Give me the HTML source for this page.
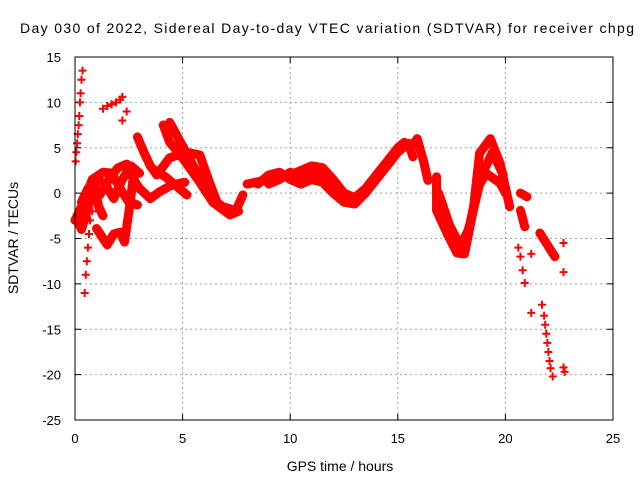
<!DOCTYPE html>
<html><head><meta charset="utf-8"><style>
html,body{margin:0;padding:0;background:#fff}
svg{display:block;font-family:"Liberation Sans",Arial,sans-serif}
</style></head><body>
<svg id="chart" width="640" height="480" viewBox="0 0 640 480">
<rect width="640" height="480" fill="#fff"/>
<text x="20" y="33" font-size="14" textLength="614">Day 030 of 2022, Sidereal Day-to-day VTEC variation (SDTVAR) for receiver chpg</text>
<g id="grid"></g>
<g id="plot"></g>
<rect x="75" y="57" width="538" height="363" fill="none" stroke="#000" stroke-width="1"/>
<g id="ticks"></g>
<text x="340" y="471" font-size="14" text-anchor="middle">GPS time / hours</text>
<text x="0" y="0" font-size="14" text-anchor="middle" transform="translate(18,238) rotate(-90)">SDTVAR / TECUs</text>
</svg>
<script>
const xTicks = [0, 5, 10, 15, 20, 25];
const yTicks = [15, 10, 5, 0, -5, -10, -15, -20, -25];
// dense tracks (bands)
const bandA = [[0,-3],[0.4,-1],[0.8,1.5],[1.3,2.3],[1.7,2.2],[2.1,0.5],[2.5,-1],[2.9,-1.3]];
const bandB = [[1.15,-0.2],[1.6,1.6],[2.0,2.8],[2.4,3.2],[2.7,1.6],[3.0,0.5],[3.5,-0.6],[3.9,0.1],[4.5,0.9],[5.1,1.2]];
const bandC = [[2.9,6.2],[3.2,4.5],[3.5,3],[3.8,2],[4.4,3.9],[5.2,4.5],[5.8,4.2],[6.2,1.5],[6.6,-1],[7.1,-2],[7.5,-1.8],[7.8,-0.2]];
const bandD = [[4.1,7.5],[4.4,5.6],[4.9,4.2],[5.8,1.2],[6.4,-1],[7.2,-2.4],[7.6,-2]];
const bandE = [[4.4,7.8],[4.7,6.5],[5.0,5.2],[5.5,3],[6.0,0.8],[6.6,-1.3],[7.3,-1.8]];
const bandF = [[1.0,-3.9],[1.5,-5.7],[1.8,-4.5],[2.1,-4.3],[2.3,-5.4],[2.55,-1.3],[2.7,1.6],[2.9,2.3]];
const bandG = [[3.6,2.7],[4.2,1.8],[4.7,0.8],[5.2,-0.2]];
const bandH = [[0.3,-1],[0.6,0.5],[1.0,1.5],[1.4,1.0],[1.8,-0.6],[2.2,1.5],[2.6,3],[3.0,2.2]];
const bandI = [[0.1,-3],[0.3,-4],[0.5,-2.5],[0.7,-0.5],[0.9,0.8],[1.1,-1.5],[1.3,-2.5]];
const bandM1 = [[8.0,1],[9,1.5],[10,2],[10.5,2.5],[11,3],[11.5,2.8],[12,1.5],[12.5,0],[13,-0.5],[13.5,0.5],[14,2],[14.5,3.5],[15,5],[15.3,5.6],[15.6,5],[15.9,6],[16.2,3.5],[16.4,1.4]];
const bandM2 = [[8.5,1],[9,2],[9.5,2.3],[10,1.5],[10.5,1],[11,1.5],[11.5,1.2],[12,0],[12.5,-1],[13,-1.2],[13.5,0],[14,1.5],[14.5,3],[15,4.5],[15.5,5.5],[15.7,4]];
const bandM3 = [[9,1],[9.5,1.5],[10,2.3],[10.5,1.8],[11,2.2],[11.5,2],[12,0.8],[12.5,-0.5],[13,-1],[13.5,0.2],[14,1.8],[14.5,3.2],[15,4.8]];
const bandV1 = [[16.8,1.8],[16.8,-1.9],[17.3,-4.5],[17.75,-6.6],[18.1,-6.7],[18.5,-2],[18.8,4.4],[19.3,6],[19.75,3.3],[20.2,-1.5]];
const bandV2 = [[16.9,0],[17.4,-3.5],[17.9,-5.8],[18.3,-4],[18.7,0.5],[19.1,2.2],[19.75,1.1],[20.0,0]];
const bandV3 = [[17.1,-2],[17.6,-5],[18.0,-6.2],[18.4,-3],[18.9,2],[19.4,4.5],[19.9,2]];
const bandR1 = [[20.7,0],[21.0,-0.4]];
const bandR2 = [[20.7,-1.9],[20.9,-3.7]];
const bandR3 = [[21.6,-4.4],[22.3,-7]];
// sparse marker tracks
const spikeUp = [[0.0,-3],[0.03,3.5],[0.06,4.5],[0.1,5.5],[0.13,6.5],[0.17,7.5],[0.2,8.5],[0.23,10],[0.26,11],[0.3,12.5],[0.35,13.5]];
const spikeDown = [[0.45,-11],[0.5,-9],[0.55,-7.5],[0.6,-6],[0.65,-4.5],[0.7,-3],[0.8,-2],[0.9,-1]];
const blobTop = [[1.3,9.3],[1.5,9.6],[1.7,9.8],[1.9,10],[2.1,10.3],[2.2,10.6],[2.4,9],[2.2,8]];
const rightA = [[20.6,-6],[20.7,-7],[20.8,-8.5],[20.9,-9.9],[21.2,-6.7],[21.2,-13.2],[22.7,-5.5],[22.7,-8.7]];
const rightB = [[21.7,-12.3],[21.8,-13.5],[21.85,-14.5],[21.9,-15.5],[21.95,-16.5],[22.0,-17.5],[22.05,-18.5],[22.1,-19.3],[22.2,-20.2],[22.7,-19.2],[22.75,-19.7]];
const bands = [bandA,bandB,bandC,bandD,bandE,bandF,bandG,bandH,bandI,bandM1,bandM2,bandM3,bandV1,bandV2,bandV3,bandR1,bandR2,bandR3];
const sparse = [spikeUp,spikeDown,blobTop,rightA,rightB];

const X0=75, X1=613, Y0=57, Y1=420;
const xs = t => X0 + (t-0)/(25-0)*(X1-X0);
const ys = v => Y0 + (15-v)/(15-(-25))*(Y1-Y0);
const NS='http://www.w3.org/2000/svg';
const grid=document.getElementById('grid'), plot=document.getElementById('plot'), ticks=document.getElementById('ticks');
function mk(tag,attrs,parent){const e=document.createElementNS(NS,tag);for(const k in attrs)e.setAttribute(k,attrs[k]);parent.appendChild(e);return e;}

xTicks.forEach(t=>{
  const x=xs(t);
  if(t>0&&t<25){const g=mk('line',{x1:x,x2:x,y1:Y0,y2:Y1,stroke:'#a0a0a0','stroke-dasharray':'2,3'},grid);
  
  }
  const tk=mk('path',{d:`M${x} ${Y1}v-6M${x} ${Y0}v6`,stroke:'#000'},grid);
  
  
  const l=mk('text',{x:x,y:443,'font-size':13,'text-anchor':'middle'},ticks);
  l.textContent=t;
  
  
});
yTicks.forEach(v=>{
  const y=ys(v);
  if(v<15&&v>-25){const g=mk('line',{x1:X0,x2:X1,y1:y,y2:y,stroke:'#a0a0a0','stroke-dasharray':'2,3'},grid);
  
  }
  const tk=mk('path',{d:`M${X0} ${y}h6M${X1} ${y}h-6`,stroke:'#000'},grid);
  
  
  const l=mk('text',{x:61,y:y+5,'font-size':13,'text-anchor':'end'},ticks);
  l.textContent=v;
  
  
});
function marker(p){
  const m=mk('path',{d:`M${xs(p[0])-4} ${ys(p[1])}h8M${xs(p[0])} ${ys(p[1])-4}v8`,stroke:'#f00','stroke-width':2},plot);
  
  
}
bands.forEach(b=>{
  const pl=mk('polyline',{points:b.map(p=>xs(p[0])+','+ys(p[1])).join(' '),fill:'none',stroke:'#f00','stroke-width':9,'stroke-linejoin':'round','stroke-linecap':'round'},plot);
  
  
  b.forEach(marker);
});
sparse.forEach(s=>s.forEach(marker));
</script>
</body></html>
